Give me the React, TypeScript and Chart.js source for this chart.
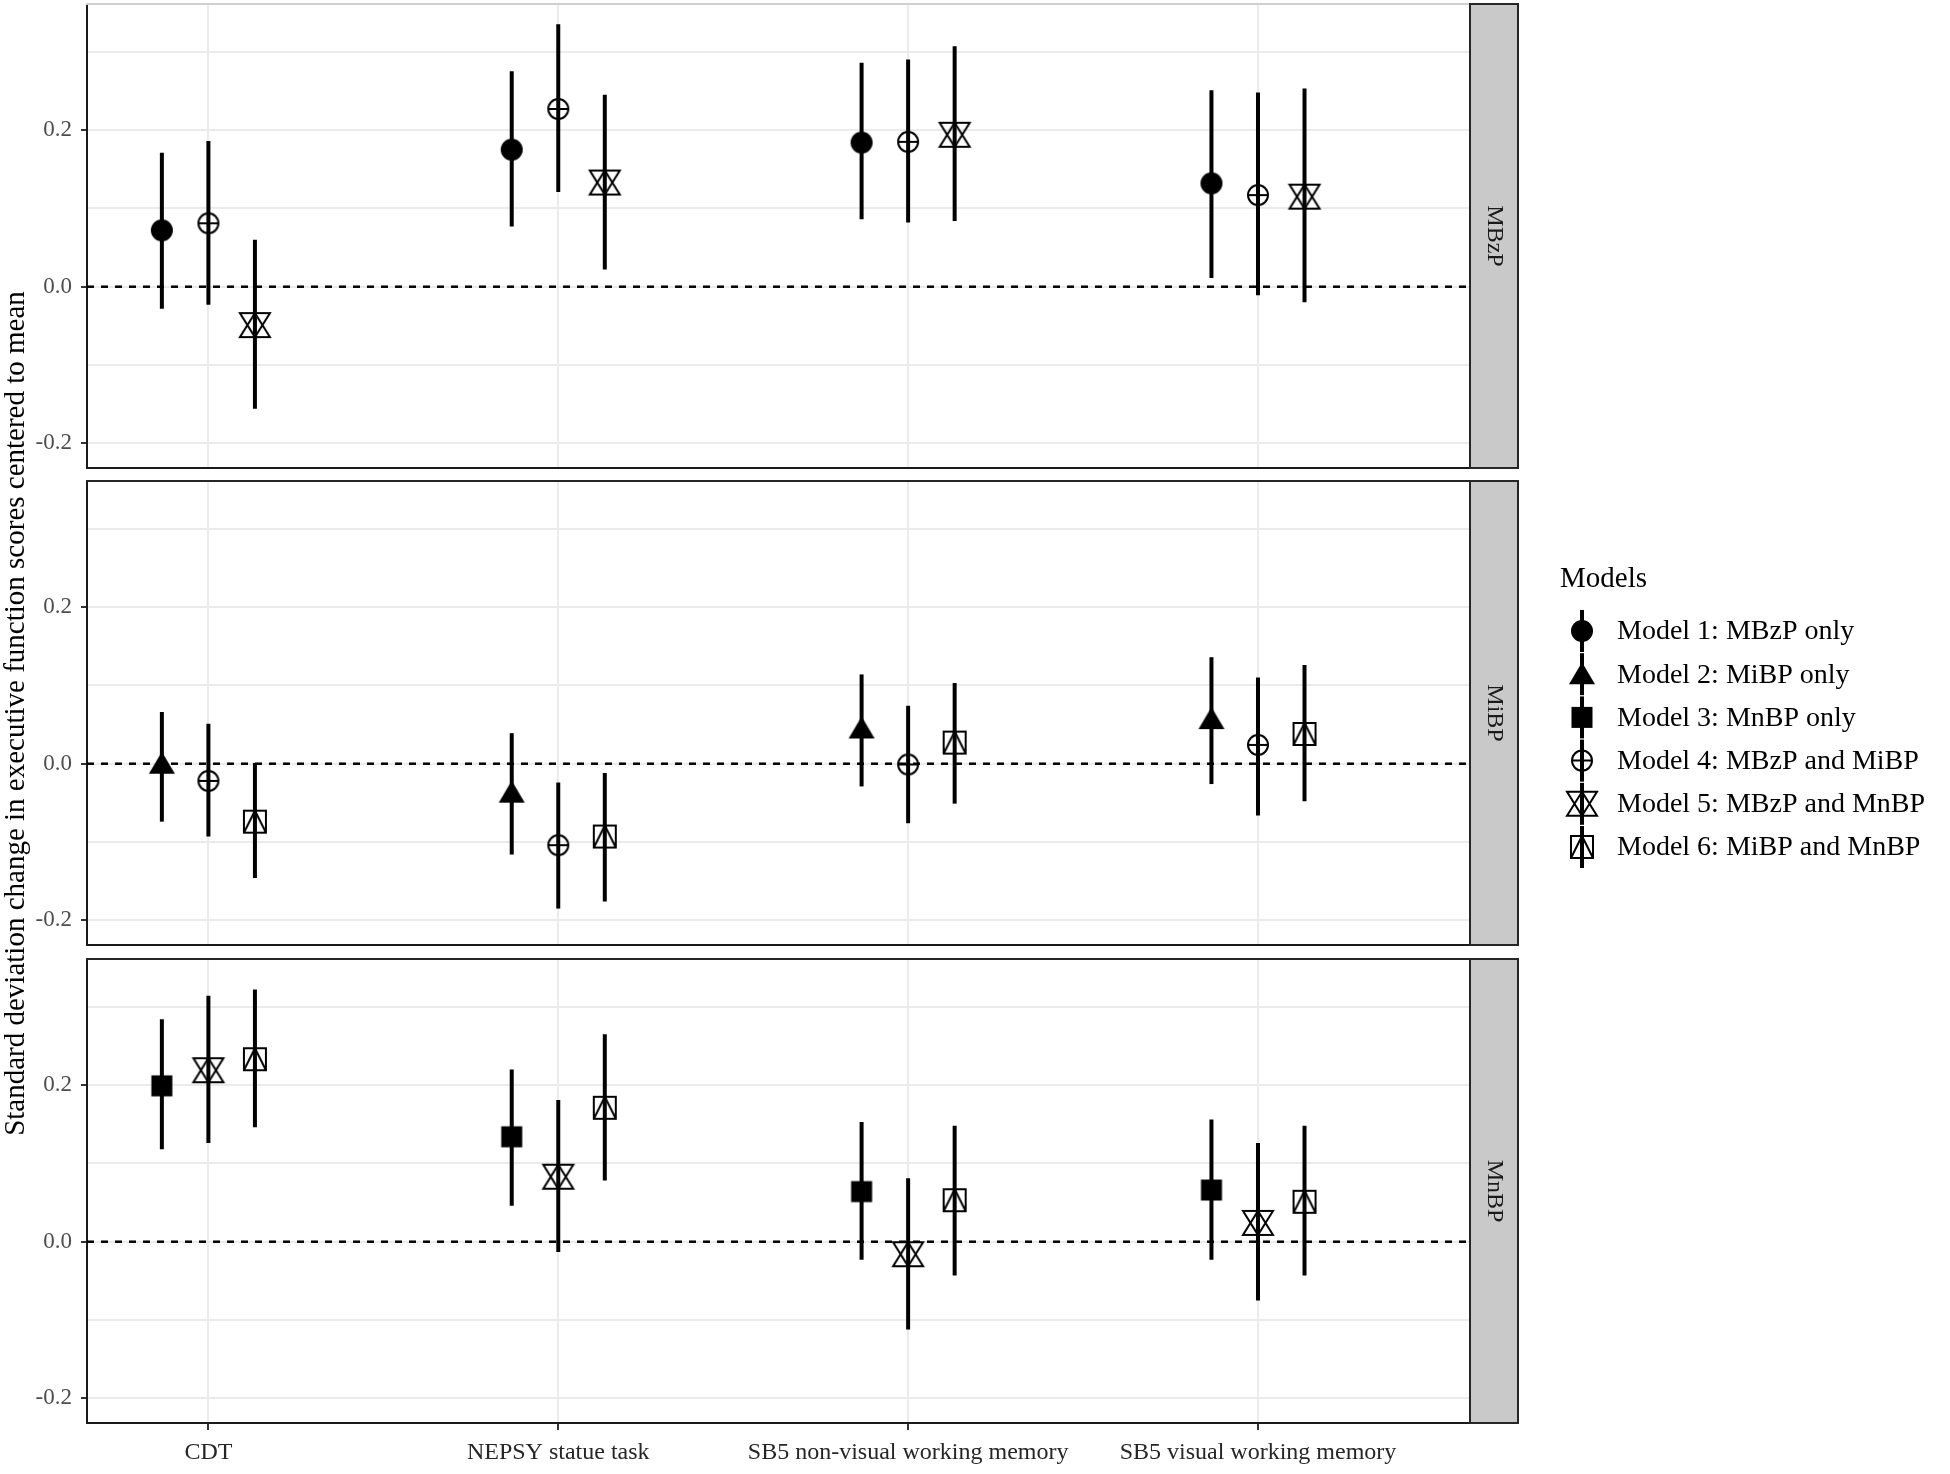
import React, { useEffect, useRef } from 'react';
import { Chart, registerables } from 'chart.js';

Chart.register(...registerables);

// ---------------- data ----------------
const categories = ['CDT', 'NEPSY statue task', 'SB5 non-visual working memory', 'SB5 visual working memory'];
const facetLabels = ['MBzP', 'MiBP', 'MnBP'];
const modelLabels = [
  'Model 1: MBzP only',
  'Model 2: MiBP only',
  'Model 3: MnBP only',
  'Model 4: MBzP and MiBP',
  'Model 5: MBzP and MnBP',
  'Model 6: MiBP and MnBP',
];
const yTickValues = [-0.2, -0.1, 0, 0.1, 0.2, 0.3];
const yLabelledTicks = [-0.2, 0, 0.2];

// MBzP facet
const mbzpModel1Est = [0.072, 0.175, 0.184, 0.132];
const mbzpModel1Low = [-0.028, 0.077, 0.086, 0.011];
const mbzpModel1High = [0.171, 0.275, 0.286, 0.251];
const mbzpModel4Est = [0.081, 0.227, 0.185, 0.117];
const mbzpModel4Low = [-0.023, 0.121, 0.082, -0.011];
const mbzpModel4High = [0.186, 0.335, 0.29, 0.248];
const mbzpModel5Est = [-0.049, 0.133, 0.194, 0.115];
const mbzpModel5Low = [-0.156, 0.022, 0.084, -0.02];
const mbzpModel5High = [0.06, 0.245, 0.307, 0.253];

// MiBP facet
const mibpModel2Est = [0.0, -0.037, 0.045, 0.057];
const mibpModel2Low = [-0.074, -0.116, -0.029, -0.026];
const mibpModel2High = [0.066, 0.039, 0.114, 0.136];
const mibpModel4Est = [-0.022, -0.104, -0.001, 0.024];
const mibpModel4Low = [-0.093, -0.185, -0.076, -0.066];
const mibpModel4High = [0.051, -0.024, 0.074, 0.11];
const mibpModel6Est = [-0.074, -0.093, 0.027, 0.038];
const mibpModel6Low = [-0.146, -0.176, -0.051, -0.048];
const mibpModel6High = [0.001, -0.012, 0.103, 0.126];

// MnBP facet
const mnbpModel3Est = [0.199, 0.134, 0.064, 0.066];
const mnbpModel3Low = [0.118, 0.046, -0.023, -0.023];
const mnbpModel3High = [0.284, 0.22, 0.153, 0.156];
const mnbpModel5Est = [0.219, 0.083, -0.016, 0.024];
const mnbpModel5Low = [0.126, -0.013, -0.112, -0.075];
const mnbpModel5High = [0.314, 0.181, 0.081, 0.126];
const mnbpModel6Est = [0.233, 0.171, 0.053, 0.051];
const mnbpModel6Low = [0.146, 0.078, -0.043, -0.043];
const mnbpModel6High = [0.322, 0.265, 0.148, 0.148];

const facetSeries = [
  [
    { model: 0, est: mbzpModel1Est, low: mbzpModel1Low, high: mbzpModel1High },
    { model: 3, est: mbzpModel4Est, low: mbzpModel4Low, high: mbzpModel4High },
    { model: 4, est: mbzpModel5Est, low: mbzpModel5Low, high: mbzpModel5High },
  ],
  [
    { model: 1, est: mibpModel2Est, low: mibpModel2Low, high: mibpModel2High },
    { model: 3, est: mibpModel4Est, low: mibpModel4Low, high: mibpModel4High },
    { model: 5, est: mibpModel6Est, low: mibpModel6Low, high: mibpModel6High },
  ],
  [
    { model: 2, est: mnbpModel3Est, low: mnbpModel3Low, high: mnbpModel3High },
    { model: 4, est: mnbpModel5Est, low: mnbpModel5Low, high: mnbpModel5High },
    { model: 5, est: mnbpModel6Est, low: mnbpModel6Low, high: mnbpModel6High },
  ],
];
const dodgeOffsets = [-0.133, 0, 0.133];

// ---------------- layout / style ----------------
const W = 1950;
const H = 1474;
const PANEL_TOP = [4, 481, 959];
const PANEL_BOTTOM = [468, 945, 1423];
const PLOT_LEFT = 87;
const PLOT_RIGHT = 1470;
const STRIP_W = 48;
const X_MIN = 0.653;
const X_MAX = 4.606;
const Y_MIN = -0.2315;
const Y_MAX = 0.361;
const SERIF = '"Liberation Serif", "Times New Roman", serif';

function drawMarker(ctx: CanvasRenderingContext2D, m: number, cx: number, cy: number) {
  ctx.save();
  ctx.fillStyle = '#000';
  ctx.strokeStyle = '#000';
  ctx.lineWidth = 2;
  ctx.lineJoin = 'miter';
  if (m === 0) {
    ctx.beginPath();
    ctx.arc(cx, cy, 11, 0, Math.PI * 2);
    ctx.fill();
  } else if (m === 1) {
    ctx.beginPath();
    ctx.moveTo(cx, cy - 12);
    ctx.lineTo(cx + 13, cy + 10);
    ctx.lineTo(cx - 13, cy + 10);
    ctx.closePath();
    ctx.fill();
  } else if (m === 2) {
    ctx.fillRect(cx - 10.5, cy - 10.5, 21, 21);
  } else if (m === 3) {
    ctx.beginPath();
    ctx.arc(cx, cy, 10, 0, Math.PI * 2);
    ctx.moveTo(cx - 10, cy);
    ctx.lineTo(cx + 10, cy);
    ctx.moveTo(cx, cy - 10);
    ctx.lineTo(cx, cy + 10);
    ctx.stroke();
  } else if (m === 4) {
    const hw = 15;
    const hh = 12;
    ctx.beginPath();
    ctx.moveTo(cx, cy - hh);
    ctx.lineTo(cx + hw, cy + hh);
    ctx.lineTo(cx - hw, cy + hh);
    ctx.closePath();
    ctx.moveTo(cx, cy + hh);
    ctx.lineTo(cx + hw, cy - hh);
    ctx.lineTo(cx - hw, cy - hh);
    ctx.closePath();
    ctx.stroke();
  } else {
    const h = 11;
    ctx.beginPath();
    ctx.rect(cx - h, cy - h, 2 * h, 2 * h);
    ctx.moveTo(cx - h, cy + h);
    ctx.lineTo(cx, cy - h);
    ctx.lineTo(cx + h, cy + h);
    ctx.stroke();
  }
  ctx.restore();
}

function makeMarkerImage(m: number) {
  const c = document.createElement('canvas');
  c.width = 40;
  c.height = 40;
  const ctx = c.getContext('2d') as CanvasRenderingContext2D;
  drawMarker(ctx, m, 20, 20);
  return c;
}

const isLabelled = (v: any) => typeof v === 'number' && yLabelledTicks.some((t) => Math.abs(t - v) < 1e-9);

const panelDecor = {
  id: 'panelDecor',
  beforeDatasetsDraw(chart: any) {
    const { ctx, chartArea: a, scales } = chart;
    const py = scales.y.getPixelForValue(0);
    ctx.save();
    ctx.strokeStyle = '#000';
    ctx.lineWidth = 2.5;
    ctx.setLineDash([7, 7]);
    ctx.beginPath();
    ctx.moveTo(a.left, py);
    ctx.lineTo(a.right, py);
    ctx.stroke();
    ctx.restore();
  },
  afterDraw(chart: any, _args: any, opts: any) {
    const { ctx, chartArea: a } = chart;
    ctx.save();
    // top border of panel
    ctx.strokeStyle = opts.topColor;
    ctx.lineWidth = 2;
    ctx.beginPath();
    ctx.moveTo(a.left - 1, a.top);
    ctx.lineTo(a.right, a.top);
    ctx.stroke();
    // facet strip
    ctx.fillStyle = '#c9c9c9';
    ctx.fillRect(a.right, a.top, STRIP_W, a.bottom - a.top);
    ctx.strokeStyle = '#262626';
    ctx.lineWidth = 2;
    ctx.strokeRect(a.right, a.top, STRIP_W, a.bottom - a.top);
    ctx.fillStyle = '#1a1a1a';
    ctx.font = `24px ${SERIF}`;
    ctx.textAlign = 'center';
    ctx.textBaseline = 'middle';
    ctx.translate(a.right + STRIP_W / 2, (a.top + a.bottom) / 2);
    ctx.rotate(Math.PI / 2);
    ctx.fillText(opts.label, 0, 0);
    ctx.restore();

    if (opts.extras) {
      ctx.save();
      // y axis title
      ctx.fillStyle = '#000';
      ctx.font = `29px ${SERIF}`;
      ctx.textAlign = 'center';
      ctx.textBaseline = 'middle';
      ctx.translate(16, (PANEL_TOP[0] + PANEL_BOTTOM[2]) / 2);
      ctx.rotate(-Math.PI / 2);
      ctx.fillText('Standard deviation change in executive function scores centered to mean', 0, 0);
      ctx.restore();

      // legend
      ctx.save();
      ctx.fillStyle = '#000';
      ctx.font = `29px ${SERIF}`;
      ctx.textAlign = 'left';
      ctx.textBaseline = 'middle';
      ctx.fillText('Models', 1560, 579);
      ctx.font = `28px ${SERIF}`;
      modelLabels.forEach((lab, i) => {
        const cy = 631 + i * 43.2;
        const cx = 1582;
        ctx.fillStyle = '#000';
        ctx.fillRect(cx - 2, cy - 21, 4, 42);
        drawMarker(ctx, i, cx, cy);
        ctx.fillStyle = '#000';
        ctx.fillText(lab, 1617, cy + 1);
      });
      ctx.restore();
    }
  },
};

function buildConfig(f: number): any {
  const isBottom = f === 2;
  const pointSets = facetSeries[f].map((s, j) => ({
    type: 'scatter',
    label: modelLabels[s.model],
    order: 0,
    data: categories.map((_, i) => ({ x: i + 1 + dodgeOffsets[j], y: s.est[i] })),
    pointStyle: makeMarkerImage(s.model),
    pointRadius: 10,
    pointHoverRadius: 10,
    showLine: false,
  }));
  const barSets = facetSeries[f].map((s, j) => ({
    type: 'bar',
    label: modelLabels[s.model] + ' CI',
    order: 1,
    data: categories.map((_, i) => ({ x: i + 1 + dodgeOffsets[j], y: [s.low[i], s.high[i]] })),
    backgroundColor: '#000',
    borderWidth: 0,
    grouped: false,
    maxBarThickness: 4,
  }));
  return {
    type: 'scatter',
    data: { datasets: [...pointSets, ...barSets] },
    options: {
      responsive: false,
      animation: false,
      devicePixelRatio: 1,
      events: [],
      layout: {
        autoPadding: false,
        padding: {
          left: 0,
          right: W - PLOT_RIGHT,
          top: PANEL_TOP[f],
          bottom: isBottom ? 0 : H - PANEL_BOTTOM[f],
        },
      },
      plugins: {
        legend: { display: false },
        tooltip: { enabled: false },
        panelDecor: {
          label: facetLabels[f],
          topColor: f === 0 ? '#d0d0d0' : '#262626',
          extras: f === 0,
        },
      },
      scales: {
        x: {
          type: 'linear',
          min: X_MIN,
          max: X_MAX,
          offset: false,
          afterBuildTicks: (axis: any) => {
            axis.ticks = categories.map((_, i) => ({ value: i + 1 }));
          },
          afterFit: (axis: any) => {
            axis.height = isBottom ? H - PANEL_BOTTOM[2] : 0;
            axis.paddingLeft = 0;
            axis.paddingRight = 0;
          },
          grid: {
            offset: false,
            color: '#ebebeb',
            lineWidth: 2,
            drawTicks: isBottom,
            tickLength: 7,
            tickWidth: 2,
            tickColor: '#333',
          },
          border: { display: true, color: '#1a1a1a', width: 2 },
          ticks: {
            display: isBottom,
            autoSkip: false,
            maxRotation: 0,
            minRotation: 0,
            padding: 8,
            color: '#262626',
            font: { family: SERIF, size: 24 },
            callback: (v: number) => categories[Math.round(v) - 1] ?? '',
          },
        },
        y: {
          type: 'linear',
          min: Y_MIN,
          max: Y_MAX,
          offset: false,
          beginAtZero: false,
          afterBuildTicks: (axis: any) => {
            axis.ticks = yTickValues.map((v) => ({ value: v }));
          },
          afterFit: (axis: any) => {
            axis.width = PLOT_LEFT;
            axis.paddingTop = 0;
            axis.paddingBottom = 0;
          },
          grid: {
            color: '#ebebeb',
            lineWidth: 2,
            tickLength: 6,
            tickWidth: 2,
            tickColor: (ctx: any) => (isLabelled(ctx.tick && ctx.tick.value) ? '#333' : 'rgba(0,0,0,0)'),
          },
          border: { display: true, color: '#1a1a1a', width: 2 },
          ticks: {
            padding: 9,
            color: '#4d4d4d',
            font: { family: SERIF, size: 23 },
            callback: (v: number) => (isLabelled(v) ? v.toFixed(1) : ''),
          },
        },
      },
    },
    plugins: [panelDecor],
  };
}

export default function App() {
  const r0 = useRef<HTMLCanvasElement>(null);
  const r1 = useRef<HTMLCanvasElement>(null);
  const r2 = useRef<HTMLCanvasElement>(null);

  useEffect(() => {
    const refs = [r0, r1, r2];
    const charts = refs.map((r, f) => new Chart(r.current as HTMLCanvasElement, buildConfig(f)));
    return () => charts.forEach((c) => c.destroy());
  }, []);

  const canvasStyle: React.CSSProperties = { position: 'absolute', left: 0, top: 0, width: W, height: H };
  return (
    <div style={{ position: 'absolute', left: 0, top: 0, width: W, height: H, background: '#fff' }}>
      <canvas ref={r0} width={W} height={H} style={canvasStyle} />
      <canvas ref={r1} width={W} height={H} style={canvasStyle} />
      <canvas ref={r2} width={W} height={H} style={canvasStyle} />
    </div>
  );
}
